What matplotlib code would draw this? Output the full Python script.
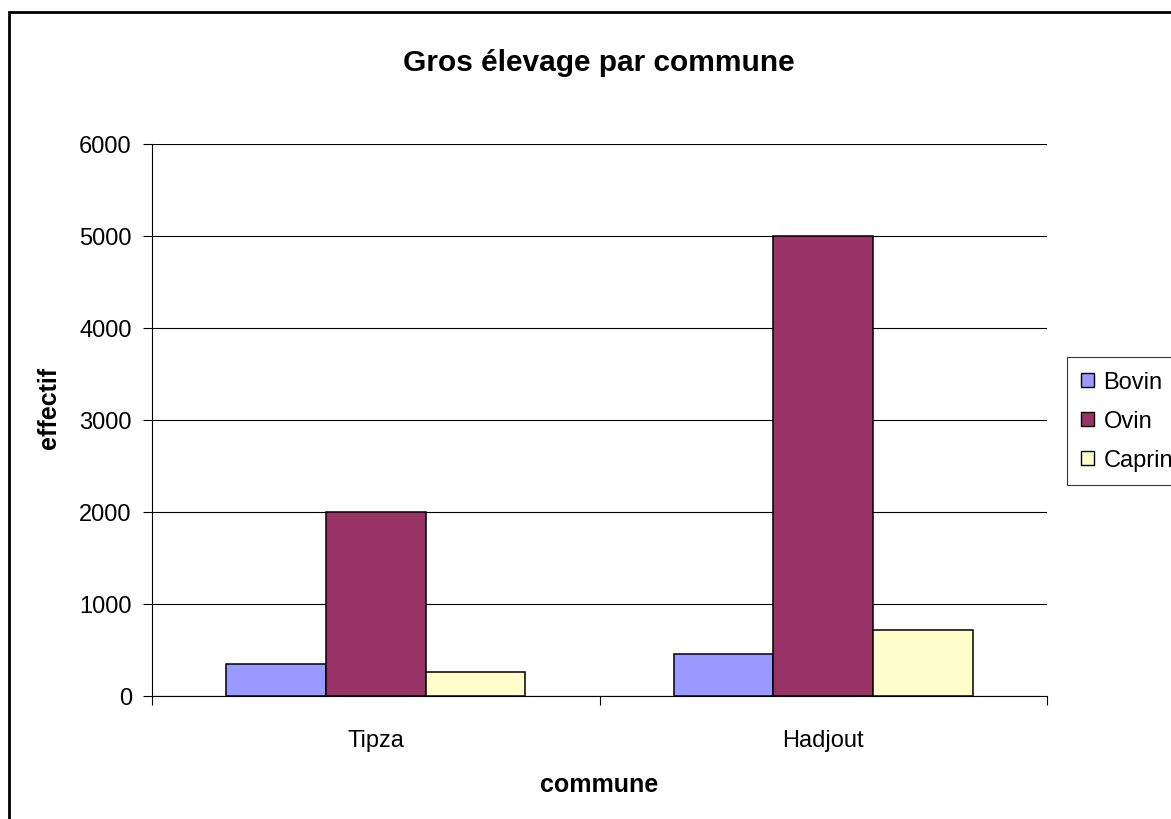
import matplotlib.pyplot as plt
import numpy as np
from matplotlib.patches import Rectangle

plt.rcParams["font.family"] = ["Liberation Sans", "DejaVu Sans"]

# Livestock counts per commune
communes = ["Tipza", "Hadjout"]
especes = ["Bovin", "Ovin", "Caprin"]
bovin = [350, 460]
ovin = [2000, 5000]
caprin = [260, 720]
y_ticks = [0, 1000, 2000, 3000, 4000, 5000, 6000]

colors = ["#9999FF", "#993366", "#FFFFCC"]

fig = plt.figure(figsize=(11.71, 8.2), dpi=100)
ax = fig.add_axes([152 / 1171, 1 - 697 / 820, 895 / 1171, 552 / 820])

x = np.arange(len(communes)) + 0.5
width = 0.2225
for i, (name, values) in enumerate(zip(especes, [bovin, ovin, caprin])):
    ax.bar(
        x + (i - 1) * width,
        values,
        width=width,
        color=colors[i],
        edgecolor="black",
        linewidth=1.1,
        label=name,
        zorder=3,
    )

ax.set_xlim(0, len(communes))
ax.set_ylim(0, 6000)
ax.set_yticks(y_ticks)
ax.set_yticklabels([str(v) for v in y_ticks], fontsize=17)
ax.yaxis.grid(True, color="black", linewidth=0.8, zorder=0)

# category boundaries carry the tick marks, names sit between them
ax.set_xticks(np.arange(len(communes) + 1))
ax.set_xticklabels([])
ax.set_xticks(x, minor=True)
ax.set_xticklabels(communes, minor=True, fontsize=17)
ax.tick_params(axis="x", which="minor", length=0, pad=24)
ax.tick_params(axis="x", which="major", direction="out", length=6.5, width=0.8)
ax.tick_params(axis="y", direction="out", length=6.5, width=0.8, pad=8)

for side in ["top", "right"]:
    ax.spines[side].set_visible(False)
for side in ["left", "bottom"]:
    ax.spines[side].set_linewidth(0.8)
    ax.spines[side].set_color("black")

ax.set_ylabel("effectif", fontsize=18, fontweight="bold")
ax.yaxis.set_label_coords(-0.102, 0.524)
ax.set_xlabel("commune", fontsize=18, fontweight="bold")
ax.xaxis.set_label_coords(0.5, -0.137)

fig.text(599 / 1171, 1 - 63 / 820, "Gros élevage par commune",
         fontsize=21.5, fontweight="bold", ha="center", va="center")

leg = fig.legend(
    loc="upper left",
    bbox_to_anchor=(1067 / 1171, 1 - 358 / 820),
    fontsize=17,
    frameon=True,
    fancybox=False,
    shadow=False,
    handlelength=0.55,
    handleheight=0.55,
    handletextpad=0.4,
    labelspacing=0.72,
    borderpad=0.6,
    borderaxespad=0,
)
leg.get_frame().set_edgecolor("black")
leg.get_frame().set_linewidth(0.8)
for h in leg.legend_handles:
    h.set_linewidth(1.0)

# chart border
fig.patches.append(Rectangle((9 / 1171, -0.1), 1.2, 1.1 - 13 / 820,
                             transform=fig.transFigure, fill=False,
                             edgecolor="black", linewidth=2))

fig.savefig("out.png", dpi=100)
